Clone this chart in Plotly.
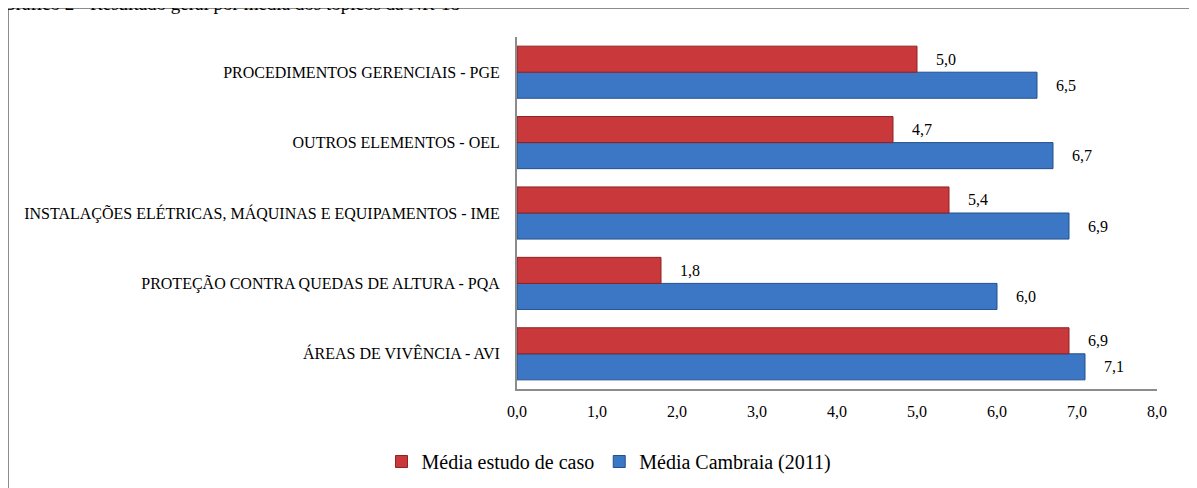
import plotly.graph_objects as go

categories = [
    "ÁREAS DE VIVÊNCIA - AVI",
    "PROTEÇÃO CONTRA QUEDAS DE ALTURA - PQA",
    "INSTALAÇÕES ELÉTRICAS, MÁQUINAS E EQUIPAMENTOS - IME",
    "OUTROS ELEMENTOS - OEL",
    "PROCEDIMENTOS GERENCIAIS - PGE",
]
estudo_caso = [6.9, 1.8, 5.4, 4.7, 5.0]
cambraia = [7.1, 6.0, 6.9, 6.7, 6.5]
tick_vals = [0, 1, 2, 3, 4, 5, 6, 7, 8]
tick_text = ["0,0", "1,0", "2,0", "3,0", "4,0", "5,0", "6,0", "7,0", "8,0"]

PAD = "\u00a0" * 4

def fmt(v):
    return PAD + f"{v:.1f}".replace(".", ",")

font_serif = "Liberation Serif, Times New Roman, serif"

fig = go.Figure()
fig.add_trace(go.Bar(
    y=categories, x=cambraia, orientation="h", name="Média Cambraia (2011)",
    marker=dict(color="#3B77C4", line=dict(color="#24508C", width=1)),
    text=[fmt(v) for v in cambraia], textposition="outside",
    textfont=dict(family=font_serif, size=16, color="#000000"),
    cliponaxis=False, legendrank=2,
))
fig.add_trace(go.Bar(
    y=categories, x=estudo_caso, orientation="h", name="Média estudo de caso",
    marker=dict(color="#C9393B", line=dict(color="#8E2224", width=1)),
    text=[fmt(v) for v in estudo_caso], textposition="outside",
    textfont=dict(family=font_serif, size=16, color="#000000"),
    cliponaxis=False, legendrank=1,
))

# page has an 8px body margin; figure coords = page coords - 8
W, H = 1189, 480
L, R, T, B = 509, 40, 29, 99
pw = W - L - R
ph = H - T - B

def px_x(p):
    return (p - L) / pw

def px_y(p):
    return 1 - (p - T) / ph

fig.update_layout(
    width=W, height=H,
    margin=dict(l=L, r=R, t=T, b=B, autoexpand=False),
    paper_bgcolor="white", plot_bgcolor="white",
    barmode="group", bargap=0.26, bargroupgap=0,
    font=dict(family=font_serif, color="#000000"),
    xaxis=dict(
        range=[0, 8], tickvals=tick_vals, ticktext=tick_text,
        showgrid=False, zeroline=False, showline=True, linecolor="#8C8C8C",
        linewidth=2, ticks="", tickfont=dict(family=font_serif, size=16),
        ticklabelstandoff=7, fixedrange=True, automargin=False,
    ),
    yaxis=dict(
        showgrid=False, showline=True, linecolor="#8C8C8C", linewidth=2,
        ticks="", tickfont=dict(family=font_serif, size=16),
        ticklabelstandoff=12, fixedrange=True, automargin=False,
    ),
    showlegend=True,
    legend=dict(
        orientation="h", x=px_x(601), xanchor="center", y=px_y(434), yanchor="top",
        font=dict(family=font_serif, size=20), itemwidth=30,
    ),
    shapes=[dict(
        type="rect", xref="paper", yref="paper",
        x0=px_x(0), x1=px_x(1300), y0=px_y(560), y1=px_y(0),
        line=dict(color="#8C8C8C", width=2), fillcolor="rgba(0,0,0,0)", layer="below",
    )],
    annotations=[dict(
        text="Gráfico 2 - Resultado geral por média dos tópicos da NR-18",
        xref="paper", yref="paper", x=px_x(-8), y=px_y(8.5), xanchor="left", yanchor="bottom",
        showarrow=False, font=dict(family=font_serif, size=19, color="#000000"),
    )],
)

fig.write_html("out.html")
